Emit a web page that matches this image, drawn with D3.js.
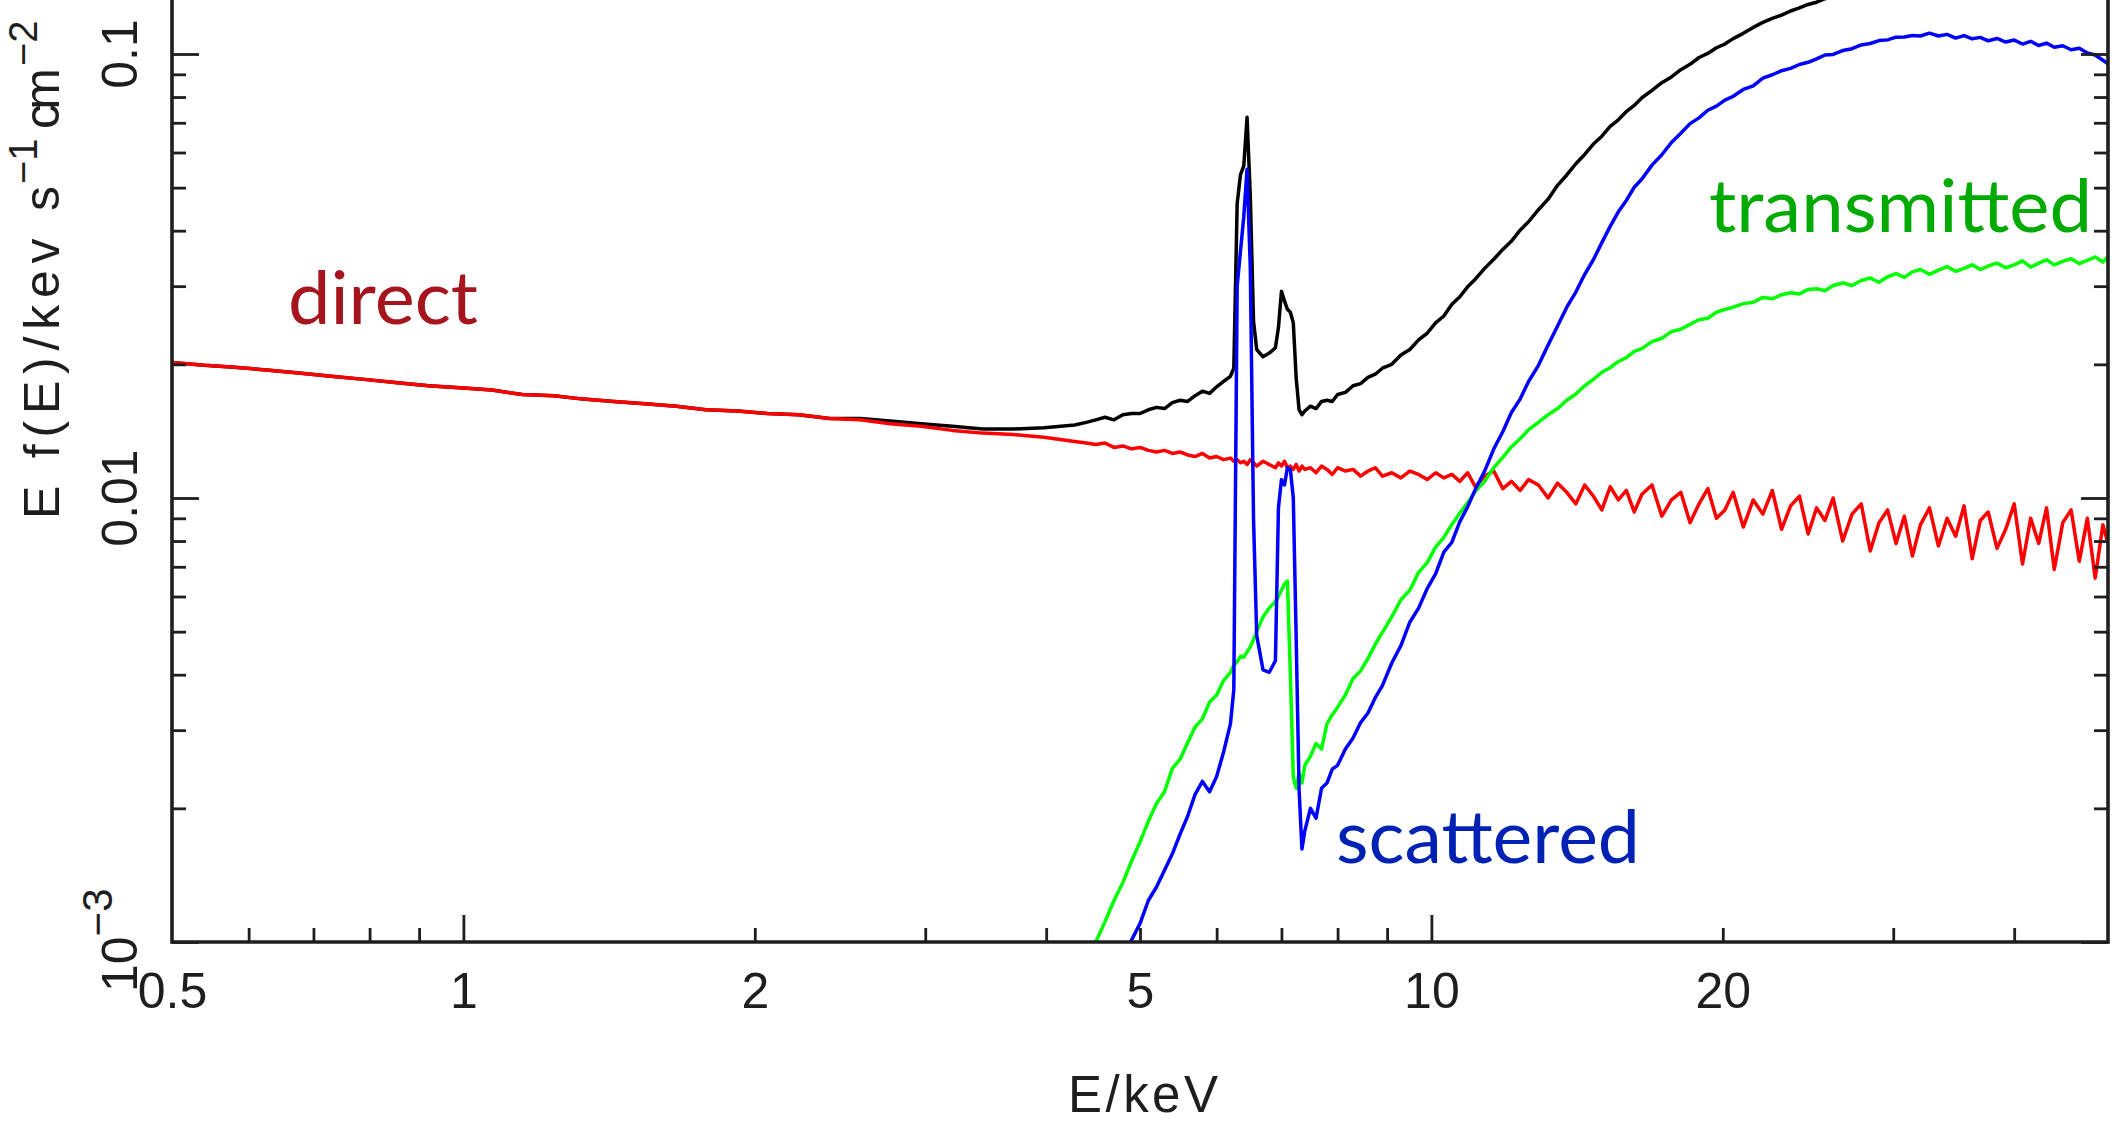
<!DOCTYPE html>
<html><head><meta charset="utf-8">
<script src="https://cdn.jsdelivr.net/npm/d3@7/dist/d3.min.js"></script>
<style>body{margin:0;background:#fff;} svg{display:block;}</style>
</head><body>
<svg id="chart" width="2112" height="1123"></svg>
<script>
// ---------------- DATA ----------------
const energy = [
  0.5, 0.54, 0.58, 0.63, 0.68, 0.73, 0.79, 0.85, 0.92, 1.0,
  1.07, 1.15, 1.24, 1.33, 1.43, 1.54, 1.66, 1.78, 1.92, 2.06,
  2.22, 2.39, 2.57, 2.76, 2.97, 3.2, 3.44, 3.7, 3.98, 4.28,
  4.4, 4.5, 4.6, 4.7, 4.8, 4.9, 5.0, 5.1, 5.2, 5.3,
  5.4, 5.5, 5.6, 5.7, 5.8, 5.9, 6.0, 6.1, 6.2, 6.25,
  6.3, 6.35, 6.4, 6.45, 6.5, 6.55, 6.6, 6.7, 6.8, 6.9,
  6.95, 7.0, 7.05, 7.1, 7.15, 7.2, 7.25, 7.3, 7.35, 7.4,
  7.5, 7.6, 7.7, 7.8, 7.9, 8.0, 8.15, 8.3, 8.45, 8.6,
  8.75, 8.9, 9.1, 9.3, 9.5, 9.7, 9.9, 10.1, 10.3, 10.5,
  10.7, 10.9, 11.1, 11.35, 11.6, 11.85, 12.1, 12.35, 12.6, 12.9,
  13.2, 13.5, 13.8, 14.1, 14.4, 14.7, 15.0, 15.3, 15.6, 15.9,
  16.2, 16.5, 16.9, 17.3, 17.7, 18.1, 18.5, 18.9, 19.3, 19.7,
  20.1, 20.5, 21.0, 21.5, 22.0, 22.5, 23.0, 23.5, 24.0, 24.5,
  25.0, 25.5, 26.0, 26.6, 27.2, 27.8, 28.4, 29.0, 29.6, 30.2,
  30.8, 31.4, 32.0, 32.7, 33.4, 34.1, 34.8, 35.5, 36.2, 36.9,
  37.6, 38.4, 39.2, 40.0, 40.8, 41.6, 42.4, 43.2, 44.0, 44.9,
  45.8, 46.7, 47.6, 48.5, 49.4, 50.0
];

const total = [
  0.0202, 0.0199, 0.0197, 0.0194, 0.0191, 0.0188, 0.0185, 0.0182, 0.0179, 0.0177,
  0.0175, 0.0171, 0.0170, 0.0167, 0.0165, 0.0163, 0.0161, 0.0158, 0.0157, 0.0155,
  0.0154, 0.0151, 0.0151, 0.0149, 0.0147, 0.0145, 0.0143, 0.0143, 0.0144, 0.0146,
  0.0148, 0.0150, 0.0152, 0.0150, 0.0154, 0.0155, 0.0155, 0.0158, 0.0160, 0.0159,
  0.0164, 0.0166, 0.0165, 0.0170, 0.0174, 0.0172, 0.0178, 0.0183, 0.0188, 0.0196,
  0.0460, 0.0535, 0.0560, 0.0720, 0.0480, 0.0250, 0.0216, 0.0208, 0.0212, 0.0218,
  0.0242, 0.0292, 0.0278, 0.0266, 0.0262, 0.0248, 0.0186, 0.0158, 0.0154, 0.0157,
  0.0161, 0.0159, 0.0165, 0.0166, 0.0165, 0.0171, 0.0173, 0.0179, 0.0181, 0.0187,
  0.0190, 0.0196, 0.0200, 0.0210, 0.0216, 0.0227, 0.0235, 0.0248, 0.0257, 0.0273,
  0.0284, 0.0299, 0.0311, 0.0329, 0.0345, 0.0363, 0.0379, 0.0401, 0.0419, 0.0446,
  0.0471, 0.0506, 0.0534, 0.0566, 0.0594, 0.0627, 0.0653, 0.0687, 0.0711, 0.0742,
  0.0766, 0.0797, 0.0828, 0.0862, 0.0888, 0.0922, 0.0948, 0.0982, 0.1003, 0.1033,
  0.1053, 0.1083, 0.1113, 0.1148, 0.1178, 0.1203, 0.1223, 0.1250, 0.1270, 0.1293,
  0.1308, 0.1332, 0.1348, 0.1372, 0.1388, 0.1407, 0.1418, 0.1436, 0.1444, 0.1452,
  0.1458, 0.1462, 0.1468, 0.1470, 0.1472, 0.1470, 0.1468, 0.1465, 0.1460, 0.1455,
  0.1450, 0.1448, 0.1442, 0.1438, 0.1432, 0.1425, 0.1420, 0.1412, 0.1405, 0.1400,
  0.1396, 0.1392, 0.1388, 0.1384, 0.1381, 0.1380
];

const direct = [
  0.0202, 0.0199, 0.0197, 0.0194, 0.0191, 0.0188, 0.0185, 0.0182, 0.0179, 0.0177,
  0.0175, 0.0171, 0.0170, 0.0167, 0.0165, 0.0163, 0.0161, 0.0158, 0.0157, 0.0155,
  0.0154, 0.0151, 0.0150, 0.0147, 0.0145, 0.0142, 0.0140, 0.0139, 0.0137, 0.0134,
  0.0133, 0.0132, 0.0133, 0.0130, 0.0131, 0.0129, 0.0130, 0.0128, 0.0127, 0.0128,
  0.0126, 0.0127, 0.0125, 0.0124, 0.0126, 0.0123, 0.0124, 0.0122, 0.0123, 0.0121,
  0.0122, 0.0120, 0.0121, 0.0119, 0.0122, 0.0120, 0.0118, 0.0121, 0.0119, 0.0117,
  0.0120, 0.0118, 0.0121, 0.0117, 0.0118, 0.0116, 0.0119, 0.0115, 0.0118, 0.0116,
  0.0117, 0.0114, 0.0118, 0.0116, 0.0113, 0.0117, 0.0115, 0.0116, 0.0112, 0.0115,
  0.0117, 0.0112, 0.0114, 0.0111, 0.0115, 0.0113, 0.0110, 0.0114, 0.0111, 0.0113,
  0.0109, 0.0114, 0.0106, 0.0112, 0.0115, 0.0105, 0.0109, 0.0104, 0.0110, 0.0107,
  0.0100, 0.0108, 0.0103, 0.0097, 0.0107, 0.0101, 0.0094, 0.0106, 0.0099, 0.0104,
  0.0093, 0.0102, 0.0107, 0.0091, 0.0099, 0.0103, 0.0088, 0.0097, 0.0105, 0.0090,
  0.0094, 0.0103, 0.0086, 0.0099, 0.0092, 0.0104, 0.0085, 0.0096, 0.0101, 0.0083,
  0.0095, 0.0089, 0.0100, 0.0080, 0.0092, 0.0097, 0.0076, 0.0088, 0.0094, 0.0079,
  0.0091, 0.0074, 0.0087, 0.0095, 0.0078, 0.0090, 0.0082, 0.0096, 0.0073, 0.0089,
  0.0093, 0.0077, 0.0085, 0.0097, 0.0071, 0.0090, 0.0079, 0.0095, 0.0069, 0.0088,
  0.0094, 0.0072, 0.0090, 0.0066, 0.0087, 0.0079
];

const transmitted = [
  null, null, null, null, null, null, null, null, null, null,
  null, null, null, null, null, null, null, null, null, null,
  null, null, null, null, null, null, null, null, null, null,
  0.00092, 0.00100, 0.00111, 0.00124, 0.00136, 0.00152, 0.00168, 0.00187, 0.00205, 0.00218,
  0.00246, 0.00258, 0.00281, 0.00305, 0.00318, 0.00347, 0.00360, 0.00388, 0.00405, 0.00420,
  0.00428, 0.00440, 0.00438, 0.00450, 0.00462, 0.00480, 0.00500, 0.00540, 0.00565, 0.00585,
  0.00600, 0.00620, 0.00640, 0.00650, 0.00400, 0.00235, 0.00222, 0.00240, 0.00228, 0.00250,
  0.00262, 0.00280, 0.00272, 0.00310, 0.00325, 0.00338, 0.00360, 0.00392, 0.00408, 0.00435,
  0.00468, 0.00498, 0.00540, 0.00590, 0.00620, 0.00680, 0.00715, 0.00775, 0.00815, 0.00872,
  0.00925, 0.00975, 0.01035, 0.01090, 0.01170, 0.01235, 0.01305, 0.01360, 0.01425, 0.01480,
  0.01540, 0.01590, 0.01660, 0.01715, 0.01790, 0.01850, 0.01920, 0.01965, 0.02030, 0.02070,
  0.02140, 0.02170, 0.02250, 0.02290, 0.02370, 0.02400, 0.02460, 0.02520, 0.02540, 0.02620,
  0.02660, 0.02690, 0.02740, 0.02760, 0.02830, 0.02810, 0.02870, 0.02900, 0.02880, 0.02950,
  0.02960, 0.02930, 0.03010, 0.03050, 0.03010, 0.03090, 0.03130, 0.03060, 0.03150, 0.03200,
  0.03140, 0.03230, 0.03270, 0.03190, 0.03260, 0.03320, 0.03240, 0.03290, 0.03350, 0.03270,
  0.03330, 0.03380, 0.03300, 0.03350, 0.03420, 0.03310, 0.03380, 0.03440, 0.03350, 0.03410,
  0.03460, 0.03370, 0.03430, 0.03490, 0.03400, 0.03500
];

const scattered = [
  null, null, null, null, null, null, null, null, null, null,
  null, null, null, null, null, null, null, null, null, null,
  null, null, null, null, null, null, null, null, null, null,
  0.00055, 0.00061, 0.00069, 0.00078, 0.00088, 0.00101, 0.00110, 0.00124, 0.00133, 0.00145,
  0.00158, 0.00175, 0.00192, 0.00215, 0.00230, 0.00218, 0.00236, 0.00268, 0.00310, 0.00370,
  0.0300, 0.0360, 0.0430, 0.0550, 0.0330, 0.0090, 0.0049, 0.00410, 0.00405, 0.00430,
  0.00950, 0.01100, 0.01070, 0.01170, 0.01160, 0.01000, 0.00480, 0.00220, 0.00162, 0.00178,
  0.00200, 0.00190, 0.00222, 0.00228, 0.00245, 0.00250, 0.00272, 0.00288, 0.00312, 0.00328,
  0.00355, 0.00378, 0.00425, 0.00465, 0.00525, 0.00565, 0.00625, 0.00675, 0.00755, 0.00795,
  0.00885, 0.00955, 0.01045, 0.01150, 0.01290, 0.01410, 0.01560, 0.01670, 0.01830, 0.01990,
  0.02210, 0.02440, 0.02690, 0.02910, 0.03190, 0.03440, 0.03760, 0.04090, 0.04410, 0.04680,
  0.05010, 0.05230, 0.05620, 0.05930, 0.06320, 0.06630, 0.06970, 0.07180, 0.07470, 0.07630,
  0.07870, 0.08030, 0.08320, 0.08480, 0.08820, 0.08980, 0.09170, 0.09280, 0.09470, 0.09580,
  0.09750, 0.09950, 0.09980, 0.10180, 0.10280, 0.10480, 0.10560, 0.10720, 0.10760, 0.10910,
  0.10920, 0.11010, 0.10980, 0.11140, 0.10980, 0.11070, 0.10860, 0.11000, 0.10820, 0.10900,
  0.10710, 0.10840, 0.10640, 0.10750, 0.10530, 0.10680, 0.10450, 0.10580, 0.10360, 0.10440,
  0.10220, 0.10300, 0.10050, 0.09950, 0.09680, 0.09500
];

const xLabelTicks = [0.5, 1, 2, 5, 10, 20];
const xMajorTicks = [1, 10];
const xMinorTicks = [0.6, 0.7, 0.8, 0.9, 2, 3, 4, 5, 6, 7, 8, 9, 20, 30, 40];
const yLabelTicks = [0.01, 0.1];
const yMajorTicks = [0.001, 0.01, 0.1];
const yMinorTicks = [0.002, 0.003, 0.004, 0.005, 0.006, 0.007, 0.008, 0.009,
                     0.02, 0.03, 0.04, 0.05, 0.06, 0.07, 0.08, 0.09];

// ---------------- CHART ----------------
const svg = d3.select('#chart');
const L = 172, R = 2108, B = 942;
const x = d3.scaleLog().domain([0.5, 50]).range([L, R]);
const y = d3.scaleLog().domain([0.001, 0.1]).range([B, 54]);
const ink = '#1e1e1e';
const axisFont = '"Liberation Sans", Arial, sans-serif';
const labelFont = 'Lato, "Open Sans", sans-serif';

svg.append('rect').attr('width', 2112).attr('height', 1123).attr('fill', '#fff');

svg.append('defs').append('clipPath').attr('id', 'plotclip')
  .append('rect').attr('x', L).attr('y', 0).attr('width', R - L).attr('height', B);

const plot = svg.append('g').attr('clip-path', 'url(#plotclip)');
const series = [
  {vals: total, color: '#000000'},
  {vals: direct, color: '#ff0000'},
  {vals: transmitted, color: '#00ff00'},
  {vals: scattered, color: '#0000ff'}
];
const line = d3.line()
  .defined(d => d.v != null)
  .x(d => x(d.e))
  .y(d => y(d.v));
series.forEach(s => {
  const pts = energy.map((e, i) => ({e: e, v: s.vals[i]}));
  plot.append('path').datum(pts)
    .attr('d', line)
    .attr('fill', 'none')
    .attr('stroke', s.color)
    .attr('stroke-width', 3.5)
    .attr('stroke-linejoin', 'round');
});

function tickStyle(g) {
  g.select('.domain').remove();
  g.selectAll('.tick line').attr('stroke', ink).attr('stroke-width', 2.8);
}
// bottom axis ticks
svg.append('g').attr('transform', `translate(0,${B})`)
  .call(d3.axisBottom(x).tickValues(xMinorTicks).tickSize(-14).tickFormat(''))
  .call(tickStyle);
svg.append('g').attr('transform', `translate(0,${B})`)
  .call(d3.axisBottom(x).tickValues(xMajorTicks).tickSize(-27).tickFormat(''))
  .call(tickStyle);
const xl = svg.append('g').attr('transform', `translate(0,${B})`)
  .call(d3.axisBottom(x).tickValues(xLabelTicks).tickSize(0).tickPadding(30).tickFormat(d3.format('~g')));
xl.select('.domain').remove();
xl.selectAll('text').attr('font-family', axisFont).attr('font-size', 50).attr('fill', ink);

// left axis ticks
svg.append('g').attr('transform', `translate(${L},0)`)
  .call(d3.axisLeft(y).tickValues(yMinorTicks).tickSize(-14).tickFormat(''))
  .call(tickStyle);
svg.append('g').attr('transform', `translate(${L},0)`)
  .call(d3.axisLeft(y).tickValues(yMajorTicks).tickSize(-27).tickFormat(''))
  .call(tickStyle);
// right axis ticks
svg.append('g').attr('transform', `translate(${R},0)`)
  .call(d3.axisRight(y).tickValues(yMinorTicks).tickSize(-14).tickFormat(''))
  .call(tickStyle);
svg.append('g').attr('transform', `translate(${R},0)`)
  .call(d3.axisRight(y).tickValues(yMajorTicks).tickSize(-27).tickFormat(''))
  .call(tickStyle);

// frame lines
const frame = svg.append('g').attr('stroke', ink).attr('stroke-width', 3.6).attr('fill', 'none');
frame.append('path').attr('d', `M${L},0V${B}H${R}V0`).attr('stroke-linejoin', 'miter');

// y tick labels (rotated)
yLabelTicks.forEach(v => {
  svg.append('text')
    .attr('transform', `translate(137,${y(v)}) rotate(-90)`)
    .attr('text-anchor', 'middle')
    .attr('font-family', axisFont).attr('font-size', 50).attr('fill', ink)
    .text(d3.format('~g')(v));
});
const lowLab = svg.append('text')
  .attr('transform', `translate(137,${y(0.001) + 50}) rotate(-90)`)
  .attr('font-family', axisFont).attr('font-size', 50).attr('fill', ink);
lowLab.append('tspan').text('10');
lowLab.append('tspan').attr('dy', -25).attr('font-size', 42).text('\u22123');

// y axis title
const yt = svg.append('text')
  .attr('transform', 'translate(59,519) rotate(-90)')
  .attr('font-family', axisFont).attr('font-size', 50).attr('fill', ink);
yt.append('tspan').attr('x', 0).attr('textLength', 333).attr('lengthAdjust', 'spacing').text('E f(E)/kev s');
yt.append('tspan').attr('x', 335).attr('dy', -22).attr('font-size', 40).text('\u22121');
yt.append('tspan').attr('x', 390).attr('dy', 22).attr('textLength', 61).text('cm');
yt.append('tspan').attr('x', 453).attr('dy', -22).attr('font-size', 40).text('\u22122');

// x axis title
svg.append('text')
  .attr('x', 1068).attr('y', 1112)
  .attr('font-family', axisFont).attr('font-size', 51).attr('fill', ink)
  .attr('textLength', 150).attr('lengthAdjust', 'spacing')
  .text('E/keV');

// curve labels
const labels = [
  {t: 'direct', x: 288, y: 324, w: 190, c: '#a6141d'},
  {t: 'transmitted', x: 1709, y: 232, w: 383, c: '#00aa00'},
  {t: 'scattered', x: 1336, y: 863, w: 304, c: '#0022b4'}
];
labels.forEach(l => {
  svg.append('text').attr('x', l.x).attr('y', l.y)
    .attr('font-family', labelFont).attr('font-size', 73).attr('fill', l.c)
    .attr('textLength', l.w).attr('lengthAdjust', 'spacingAndGlyphs')
    .text(l.t);
});
</script>
</body></html>
